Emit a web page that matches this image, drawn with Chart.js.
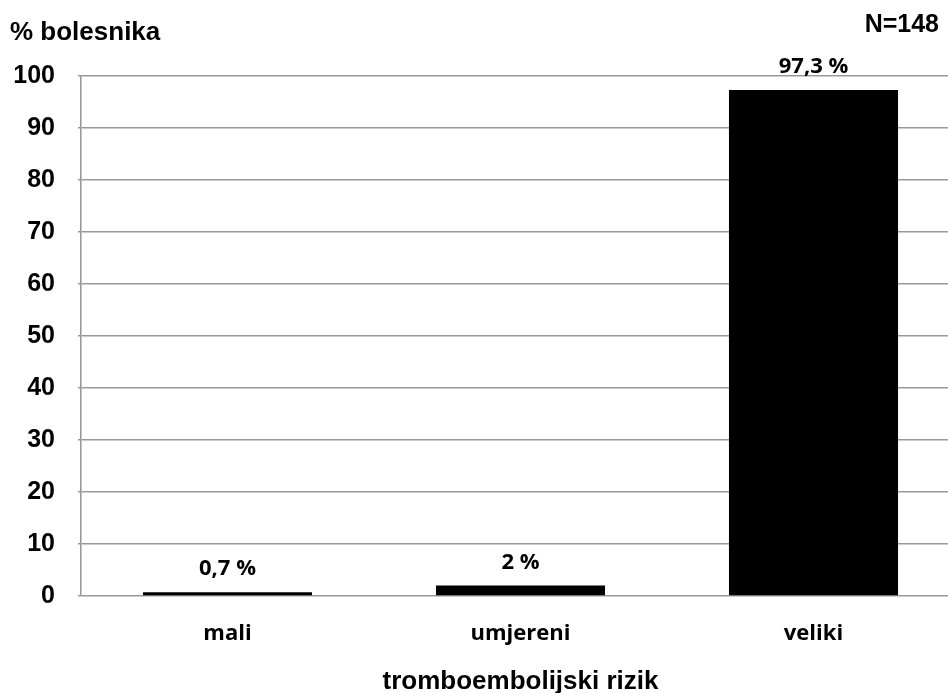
<!DOCTYPE html>
<html>
<head>
<meta charset="utf-8">
<script src="https://cdn.jsdelivr.net/npm/chart.js@4/dist/chart.umd.min.js"></script>
<style>
html,body{margin:0;padding:0;background:#fff;overflow:hidden;}
#wrap{width:960px;height:693px;}
</style>
</head>
<body>
<div id="wrap"><canvas id="c" width="960" height="693"></canvas></div>
<script>
const categories = ['mali', 'umjereni', 'veliki'];
const values = [0.7, 2, 97.3];
const valueLabels = ['0,7 %', '2 %', '97,3 %'];
const yTicks = [0, 10, 20, 30, 40, 50, 60, 70, 80, 90, 100];
const yAxisTitle = '% bolesnika';
const xAxisTitle = 'tromboembolijski rizik';
const sampleNote = 'N=148';

const arial = '"Liberation Sans", Arial, sans-serif';
const openSans = '"Open Sans", "Noto Sans", sans-serif';

const extras = {
  id: 'extras',
  afterDatasetsDraw(chart) {
    const ctx = chart.ctx;
    const meta = chart.getDatasetMeta(0);
    ctx.save();
    ctx.fillStyle = '#000';
    ctx.font = 'bold 22px ' + openSans;
    ctx.textAlign = 'center';
    ctx.textBaseline = 'alphabetic';
    meta.data.forEach((bar, i) => {
      ctx.fillText(valueLabels[i], bar.x, bar.y - 17);
    });
    ctx.font = 'bold 26px ' + arial;
    ctx.textAlign = 'left';
    ctx.fillText(yAxisTitle, 10, 40);
    ctx.font = 'bold 25px ' + arial;
    ctx.textAlign = 'right';
    ctx.fillText(sampleNote, 939, 32);
    ctx.restore();
  }
};

new Chart(document.getElementById('c'), {
  type: 'bar',
  data: {
    labels: categories,
    datasets: [{
      data: values,
      backgroundColor: '#000',
      borderWidth: 0,
      barPercentage: 0.577,
      categoryPercentage: 1.0
    }]
  },
  options: {
    responsive: false,
    animation: false,
    layout: { padding: { top: 76, right: 0, bottom: 0, left: 0 } },
    plugins: { legend: { display: false }, tooltip: { enabled: false } },
    scales: {
      x: {
        grid: { display: false, drawTicks: false },
        border: { display: false },
        ticks: {
          color: '#000',
          font: { family: openSans, size: 22, weight: 'bold' },
          padding: 24.5,
          maxRotation: 0
        },
        title: {
          display: true,
          text: xAxisTitle,
          color: '#000',
          font: { family: arial, size: 26, weight: 'bold' },
          padding: { top: 0, bottom: -4 }
        },
        afterFit(scale) { scale.height = 97; }
      },
      y: {
        min: 0,
        max: 100,
        afterBuildTicks(scale) { scale.ticks = yTicks.map(v => ({ value: v })); },
        grid: { color: '#999999', lineWidth: 1.6, tickLength: 3 },
        border: { color: '#999999', width: 1.6 },
        ticks: {
          color: '#000',
          font: { family: arial, size: 25, weight: 'bold' },
          padding: 23
        },
        afterFit(scale) { scale.width = 81; }
      }
    }
  },
  plugins: [extras]
});
</script>
</body>
</html>
